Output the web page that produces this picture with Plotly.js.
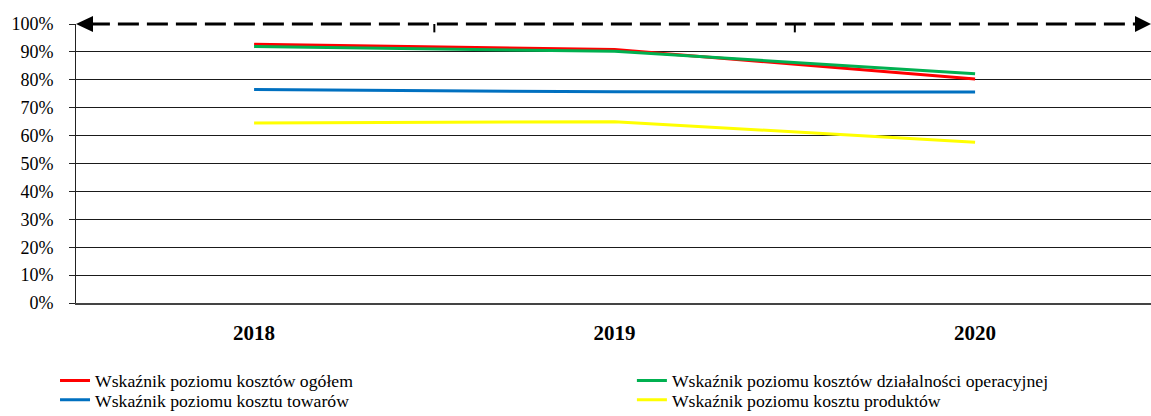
<!DOCTYPE html>
<html>
<head>
<meta charset="utf-8">
<script src="https://cdn.plot.ly/plotly-3.0.1.min.js"></script>
<style>html,body{margin:0;padding:0;background:#fff;}#chart{width:1151px;height:416px;}</style>
</head>
<body>
<div id="chart"></div>
<script>
const years = ['2018', '2019', '2020'];
const seriesNames = [
  'Wskaźnik poziomu kosztów ogółem',
  'Wskaźnik poziomu kosztów działalności operacyjnej',
  'Wskaźnik poziomu kosztu towarów',
  'Wskaźnik poziomu kosztu produktów'
];
const kosztyOgolem = [0.927, 0.909, 0.803];
const kosztyOperacyjne = [0.919, 0.902, 0.822];
const kosztTowarow = [0.765, 0.757, 0.756];
const kosztProduktow = [0.645, 0.650, 0.576];
const colors = ['#FF0000', '#00B050', '#0070C0', '#FFFF00'];
const yTicks = [0, 0.1, 0.2, 0.3, 0.4, 0.5, 0.6, 0.7, 0.8, 0.9, 1.0];

const allSeries = [kosztyOgolem, kosztyOperacyjne, kosztTowarow, kosztProduktow];
const legendIds = ['legend', 'legend2', 'legend3', 'legend4'];
const traces = allSeries.map((vals, i) => ({
  type: 'scatter', mode: 'lines', x: years, y: vals, name: seriesNames[i],
  legend: legendIds[i], line: {color: colors[i], width: 3}
}));

const font = 'Liberation Serif';
const legFont = {family: font, size: 17.7, color: '#000', weight: 'normal', style: 'normal'};
// legend placement: [x, y] in container fraction (red, green, blue, yellow)
const legPos = [[0.0478, 0.084], [0.549, 0.084], [0.0478, 0.038], [0.549, 0.038]];
function mkLegend(p) {
  return {xref: 'container', yref: 'container', x: p[0], y: p[1], xanchor: 'left', yanchor: 'middle',
          bgcolor: 'rgba(0,0,0,0)', borderwidth: 0, font: legFont, itemwidth: 30};
}
const layout = {
  width: 1151, height: 416,
  margin: {l: 76, r: 0, t: 24, b: 113, autoexpand: false},
  paper_bgcolor: '#fff', plot_bgcolor: '#fff',
  font: {family: font, color: '#000', size: 16, weight: 'normal', style: 'normal'},
  showlegend: true,
  legend: mkLegend(legPos[0]),
  legend2: mkLegend(legPos[1]),
  legend3: mkLegend(legPos[2]),
  legend4: mkLegend(legPos[3]),
  xaxis: {
    type: 'category', range: [-0.494, 2.488], showgrid: false, zeroline: false,
    showline: true, linecolor: '#444', linewidth: 2, ticks: '', ticklabelstandoff: 10,
    tickfont: {family: font, size: 21, color: '#000', weight: 'bold', style: 'normal'}, fixedrange: true
  },
  yaxis: {
    range: [0, 1], tickvals: yTicks, tickformat: '.0%', showgrid: true, gridcolor: '#1a1a1a', gridwidth: 1,
    zeroline: false, showline: true, linecolor: '#222', linewidth: 1, ticks: 'outside', ticklen: 6,
    tickcolor: '#222', tickfont: {family: font, size: 18, color: '#000', weight: 'normal', style: 'normal'},
    ticklabelstandoff: 12, fixedrange: true
  },
  shapes: [
    {type: 'line', xref: 'paper', yref: 'paper', x0: 0.002, x1: 1, y0: 1, y1: 1, line: {color: '#fff', width: 4}, layer: 'above'},
    {type: 'line', xref: 'paper', yref: 'paper', x0: 0.012, x1: 0.99, y0: 1, y1: 1, line: {color: '#000', width: 3, dash: '21px,8px'}, layer: 'above'},
    {type: 'line', xref: 'x', yref: 'paper', x0: 0.5, x1: 0.5, y0: 1, y1: 0.97, line: {color: '#000', width: 2}, layer: 'above'},
    {type: 'line', xref: 'x', yref: 'paper', x0: 1.5, x1: 1.5, y0: 1, y1: 0.97, line: {color: '#000', width: 2}, layer: 'above'},
    {type: 'path', xref: 'paper', yref: 'paper', xsizemode: 'pixel', ysizemode: 'pixel', xanchor: 0, yanchor: 1,
     path: 'M 0 0 L 17 8 L 17 -8 Z', fillcolor: '#000', line: {color: '#000', width: 0}, layer: 'above'},
    {type: 'path', xref: 'paper', yref: 'paper', xsizemode: 'pixel', ysizemode: 'pixel', xanchor: 1, yanchor: 1,
     path: 'M 0 0 L -16 8 L -16 -8 Z', fillcolor: '#000', line: {color: '#000', width: 0}, layer: 'above'}
  ]
};
Plotly.newPlot('chart', traces, layout, {displayModeBar: false, staticPlot: true});
</script>
</body>
</html>
